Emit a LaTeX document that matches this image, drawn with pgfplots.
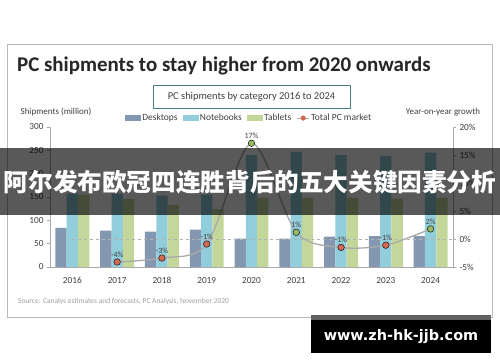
\documentclass[border=0pt]{standalone}
\usepackage{pgfplots}
\pgfplotsset{compat=1.18}
\usepackage{fontspec}
\setmainfont{Carlito}
\newfontfamily\cjk{Noto Sans CJK SC}
\newfontfamily\wm{DejaVu Sans}
\definecolor{desk}{RGB}{132,151,176}
\definecolor{note}{RGB}{146,205,220}
\definecolor{tab}{RGB}{196,215,155}
\definecolor{neg}{RGB}{210,105,80}
\definecolor{pos}{RGB}{150,185,100}
\definecolor{axisgray}{RGB}{170,170,170}
\definecolor{txt}{RGB}{64,64,64}
\definecolor{boxc}{RGB}{70,125,135}

\pgfplotstableread{
year desk note tab
2016 84 157 155
2017 78 157 146
2018 76 153 133
2019 80 155 124
2020 61 240 148
2021 61 247 148
2022 65 240 148
2023 66 238 146
2024 66 245 148
}\shipdata

\begin{document}
\begin{tikzpicture}[x=1bp,y=1bp]
\fill[white] (0,0) rectangle (500,362);
\path[use as bounding box] (0,0) rectangle (500,362);
\draw[gray!55, line width=0.8bp] (7,45) rectangle (492,318);
\node[anchor=base west, font=\bfseries\fontsize{21}{25}\selectfont, text=black!85, inner sep=0] at (17,291) {PC shipments to stay higher from 2020 onwards};
\node[draw=boxc, line width=0.7bp, minimum width=197bp, minimum height=23bp, font=\fontsize{10.5}{12}\selectfont, text=txt, inner sep=0] at (251.5,265.5) {PC shipments by category 2016 to 2024};
\node[font=\fontsize{9}{11}\selectfont, text=txt] at (56,250) {Shipments (million)};
\node[font=\fontsize{9}{11}\selectfont, text=txt] at (443,250) {Year-on-year growth};
\node[anchor=west, font=\fontsize{7.5}{9}\selectfont, text=gray!75, inner sep=0] at (18,60) {Source: Canalys estimates and forecasts, PC Analysis, November 2020};

\begin{axis}[at={(50bp,95bp)}, anchor=south west, scale only axis,
  width=403bp, height=140bp,
  xmin=2015.5, xmax=2024.5, ymin=0, ymax=300,
  axis x line*=bottom, axis y line*=left,
  axis line style={axisgray, line width=0.7bp},
  ybar=0pt, bar width=11.3bp,
  xtick={2016,...,2024}, ytick={0,50,...,300},
  xticklabel style={/pgf/number format/1000 sep={}, yshift=-4bp},
  major x tick style={draw=none},
  tick align=outside, major tick length=3bp,
  major y tick style={axisgray, line width=0.6bp},
  tick label style={font=\fontsize{9.3}{11}\selectfont, text=txt},
  /pgf/number format/assume math mode=true,
]
\addplot[fill=desk, draw=none] table[x=year, y=desk] {\shipdata};
\addplot[fill=note, draw=none] table[x=year, y=note] {\shipdata};
\addplot[fill=tab, draw=none] table[x=year, y=tab] {\shipdata};
\end{axis}

\begin{axis}[at={(50bp,95bp)}, anchor=south west, scale only axis,
  width=403bp, height=140bp,
  xmin=2015.5, xmax=2024.5, ymin=-5, ymax=20,
  axis x line=none, axis y line*=right,
  axis line style={axisgray, line width=0.7bp},
  ytick={-5,0,...,20},
  yticklabel={\pgfmathprintnumber{\tick}\%},
  tick align=outside, major tick length=3bp,
  major y tick style={axisgray, line width=0.6bp},
  tick label style={font=\fontsize{9.3}{11}\selectfont, text=txt},
  /pgf/number format/assume math mode=true,
  clip=false,
  legend columns=4,
  legend style={at={(0.494,1.064)}, anchor=center, draw=none, fill=none,
    font=\fontsize{9.5}{11}\selectfont, text=txt,
    nodes={inner sep=1.5bp},
    /tikz/every even column/.append style={column sep=4bp}},
]
\addlegendimage{legend image code/.code={\fill[desk] (0bp,-2.5bp) rectangle (15bp,2.5bp);}}
\addlegendimage{legend image code/.code={\fill[note] (0bp,-2.5bp) rectangle (15bp,2.5bp);}}
\addlegendimage{legend image code/.code={\fill[tab] (0bp,-2.5bp) rectangle (15bp,2.5bp);}}
\addlegendimage{legend image code/.code={\draw[axisgray,line width=1bp] (0bp,0bp)--(12bp,0bp); \fill[neg] (6bp,0bp) circle (2.3bp);}}
\legend{Desktops,Notebooks,Tablets,Total PC market}
\draw[dashed, gray!60, line width=0.5bp] (axis cs:2016,0) -- (axis cs:2024.5,0);
\addplot[forget plot, smooth, tension=0.5, axisgray, line width=1.3bp, no markers] coordinates {
(2017,-4.1) (2018,-3.4) (2019,-0.9) (2020,17.1) (2021,1.2) (2022,-1.5) (2023,-1.1) (2024,1.8)};
\addplot[forget plot, only marks, mark=*, mark size=3.3bp, mark options={fill=neg, draw=none},
  point meta=explicit symbolic, nodes near coords={\pgfplotspointmeta\%},
  every node near coord/.append style={font=\fontsize{8}{9}\selectfont, text=txt, yshift=1bp}]
  table[meta=lab] {
x y lab
2017 -4.1 -4
2018 -3.4 -3
2019 -0.9 -1
2022 -1.5 -1
2023 -1.1 -1
};
\addplot[forget plot, only marks, mark=*, mark size=3.3bp, mark options={fill=pos, draw=none},
  point meta=explicit symbolic, nodes near coords={\pgfplotspointmeta\%},
  every node near coord/.append style={font=\fontsize{8}{9}\selectfont, text=txt, yshift=1bp}]
  table[meta=lab] {
x y lab
2020 17.1 17
2021 1.2 1
2024 1.8 2
};
\end{axis}

% overlay banner and watermark from the reference image
\fill[black, opacity=0.65] (0,147) rectangle (500,214);
\node[font=\cjk\bfseries\fontsize{24.7}{26}\selectfont, text=white, inner sep=0] at (250,180) {阿尔发布欧冠四连胜背后的五大关键因素分析};
\fill[black!62] (311,42) rectangle (491,47);
\fill[black] (311,9) rectangle (491,42);
\node[font=\wm\bfseries\fontsize{14.5}{16}\selectfont, text=white, inner sep=0] at (401,25) {www.zh-hk-jjb.com};
\end{tikzpicture}
\end{document}
